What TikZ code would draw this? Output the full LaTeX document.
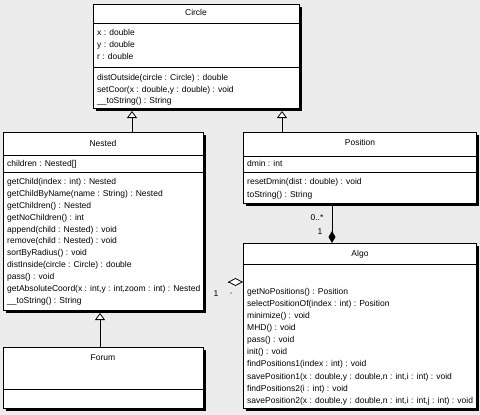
\documentclass[tikz,border=0pt]{standalone}
\usepackage{fontspec}
\setmainfont{Liberation Sans}
\usetikzlibrary{arrows.meta,shadows}
\definecolor{bg}{RGB}{236,236,236}
\begin{document}
\begin{tikzpicture}[x=1pt,y=-1pt,
  cls/.style={draw=black, line width=0.8pt, fill=white, rectangle, inner sep=0pt, outer sep=0pt,
    anchor=north west, drop shadow={shadow xshift=2.5pt, shadow yshift=-2.5pt, fill=black, opacity=1}},
  txt/.style={anchor=west, inner sep=0pt, text height=6.2pt, text depth=1.8pt, font=\fontsize{8.5}{10}\selectfont},
  ttl/.style={inner sep=0pt, text height=6.2pt, text depth=1.8pt, font=\fontsize{8.5}{10}\selectfont},
  lbl/.style={inner sep=0pt, text height=6.2pt, text depth=1.8pt, font=\fontsize{8.5}{10}\selectfont},
  sep/.style={line width=0.8pt},
  gen/.style={line width=0.8pt, -{Triangle[open, length=7pt, width=10pt, fill=white]}},
  comp/.style={line width=0.8pt, -{Diamond[length=12pt, width=7pt]}},
  agg/.style={line width=0.8pt, -{Diamond[open, length=15pt, width=8pt, fill=white]}}]
\useasboundingbox (0,0) rectangle (480,415);
\fill[bg] (0,0) rectangle (480,415);

% ---------- Circle ----------
\node[cls, minimum width=206pt, minimum height=104pt] (Circle) at (93,4) {};
\node[ttl] (tCircle) at (196,13.5) {Circle};
\draw[sep] (Circle.west |- 0,23) -- (Circle.east |- 0,23);
\node[txt] (c_a1) at (97,33) {x : double};
\node[txt] (c_a2) at (97,45) {y : double};
\node[txt] (c_a3) at (97,57) {r : double};
\draw[sep] (Circle.west |- 0,67) -- (Circle.east |- 0,67);
\node[txt] (c_m1) at (97,78) {distOutside(circle : Circle) : double};
\node[txt] (c_m2) at (97,90) {setCoor(x : double,y : double) : void};
\node[txt] (c_m3) at (97,101) {\_\_toString() : String};

% ---------- Nested ----------
\node[cls, minimum width=200pt, minimum height=178pt] (Nested) at (3,132) {};
\node[ttl] (tNested) at (103,144) {Nested};
\draw[sep] (Nested.west |- 0,155) -- (Nested.east |- 0,155);
\node[txt] (n_a1) at (7,164) {children : Nested[]};
\draw[sep] (Nested.west |- 0,172) -- (Nested.east |- 0,172);
\node[txt] (n_m1) at (7,182) {getChild(index : int) : Nested};
\node[txt] (n_m2) at (7,194) {getChildByName(name : String) : Nested};
\node[txt] (n_m3) at (7,206) {getChildren() : Nested};
\node[txt] (n_m4) at (7,218) {getNoChildren() : int};
\node[txt] (n_m5) at (7,230) {append(child : Nested) : void};
\node[txt] (n_m6) at (7,241.5) {remove(child : Nested) : void};
\node[txt] (n_m7) at (7,253.5) {sortByRadius() : void};
\node[txt] (n_m8) at (7,265.5) {distInside(circle : Circle) : double};
\node[txt] (n_m9) at (7,277.5) {pass() : void};
\node[txt] (n_m10) at (7,289.5) {getAbsoluteCoord(x : int,y : int,zoom : int) : Nested};
\node[txt] (n_m11) at (7,301.5) {\_\_toString() : String};

% ---------- Forum ----------
\node[cls, minimum width=200pt, minimum height=61pt] (Forum) at (3,347) {};
\node[ttl] (tForum) at (103,358) {Forum};
\draw[sep] (Forum.west |- 0,389) -- (Forum.east |- 0,389);

% ---------- Position ----------
\node[cls, minimum width=233pt, minimum height=71pt] (Position) at (243,132) {};
\node[ttl] (tPosition) at (360,143.5) {Position};
\draw[sep] (Position.west |- 0,156) -- (Position.east |- 0,156);
\node[txt] (p_a1) at (247,164) {dmin : int};
\draw[sep] (Position.west |- 0,172) -- (Position.east |- 0,172);
\node[txt] (p_m1) at (247,182) {resetDmin(dist : double) : void};
\node[txt] (p_m2) at (247,195) {toString() : String};

% ---------- Algo ----------
\node[cls, minimum width=233pt, minimum height=165pt] (Algo) at (243,243) {};
\node[ttl] (tAlgo) at (360,254) {Algo};
\draw[sep] (Algo.west |- 0,264) -- (Algo.east |- 0,264);
\node[txt] (a_m1) at (247,292) {getNoPositions() : Position};
\node[txt] (a_m2) at (247,304) {selectPositionOf(index : int) : Position};
\node[txt] (a_m3) at (247,316) {minimize() : void};
\node[txt] (a_m4) at (247,328) {MHD() : void};
\node[txt] (a_m5) at (247,340) {pass() : void};
\node[txt] (a_m6) at (247,352) {init() : void};
\node[txt] (a_m7) at (247,364) {findPositions1(index : int) : void};
\node[txt] (a_m8) at (247,377) {savePosition1(x : double,y : double,n : int,i : int) : void};
\node[txt] (a_m9) at (247,389) {findPositions2(i : int) : void};
\node[txt] (a_m10) at (247,401) {savePosition2(x : double,y : double,n : int,i : int,j : int) : void};

% ---------- connectors ----------
\coordinate (g1) at (132,111);
\draw[gen] (Nested.north -| g1) -- (g1);
\coordinate (g2) at (282,111);
\draw[gen] (Position.north -| g2) -- (g2);
\coordinate (g3) at (100,313);
\draw[gen] (Forum.north -| g3) -- (g3);

\coordinate (k1) at (332,206);
\draw[comp] (k1) -- (Algo.north -| k1);
\node[lbl] (mult1) at (317,218) {0..*};
\node[lbl] (mult2) at (320,232) {1};

\coordinate (d1) at (227.5,282);
\draw[agg] (d1) -- (Algo.west |- d1);
\node[lbl] (mult3) at (216,294) {1};
\fill (231,293) circle (0.6);
\end{tikzpicture}
\end{document}
